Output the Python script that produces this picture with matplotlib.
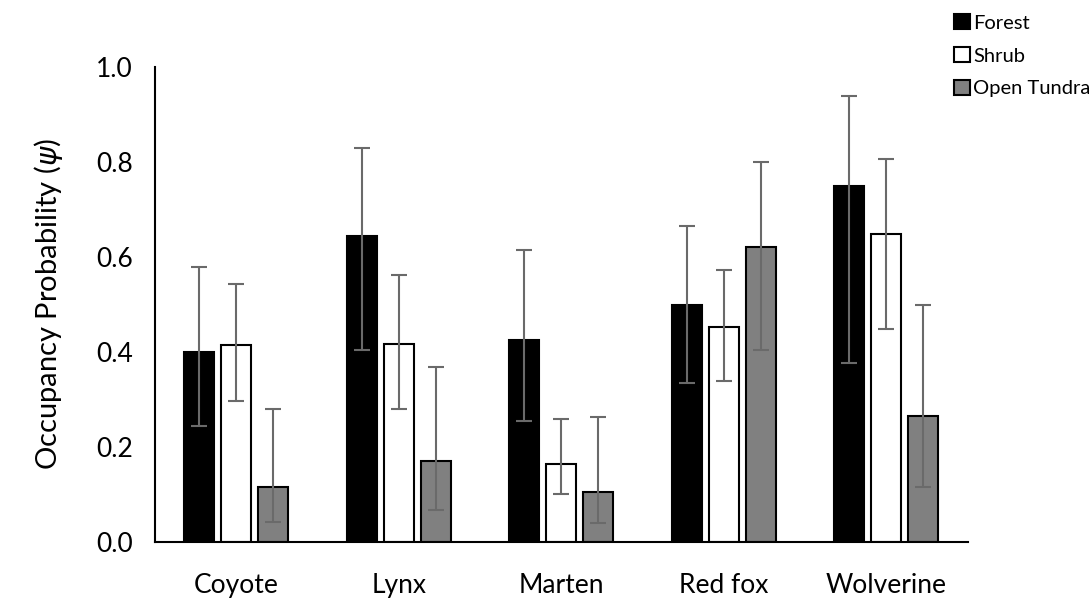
import matplotlib.pyplot as plt
import numpy as np

plt.rcParams['font.family'] = ['Lato', 'DejaVu Sans']
plt.rcParams['mathtext.fontset'] = 'dejavusans'

species = ["Coyote", "Lynx", "Marten", "Red fox", "Wolverine"]
habitats = ["Forest", "Shrub", "Open Tundra"]

forest = [0.40, 0.644, 0.425, 0.499, 0.75]
forest_hi = [0.579, 0.829, 0.615, 0.665, 0.939]
forest_lo = [0.244, 0.404, 0.255, 0.335, 0.377]

shrub = [0.415, 0.417, 0.164, 0.453, 0.648]
shrub_hi = [0.543, 0.562, 0.259, 0.573, 0.806]
shrub_lo = [0.297, 0.28, 0.101, 0.339, 0.448]

tundra = [0.116, 0.17, 0.105, 0.621, 0.265]
tundra_hi = [0.28, 0.368, 0.263, 0.80, 0.499]
tundra_lo = [0.042, 0.067, 0.04, 0.404, 0.116]

colors = ["black", "white", "#808080"]

fig = plt.figure(figsize=(10.92, 6.03), dpi=100)
ax = fig.add_axes([0.142, 0.101, 0.744, 0.788])

x = np.arange(len(species))
w = 0.185
pitch = 0.228
series = [(forest, forest_lo, forest_hi), (shrub, shrub_lo, shrub_hi), (tundra, tundra_lo, tundra_hi)]
for i, (vals, lo, hi) in enumerate(series):
    vals = np.array(vals)
    err = [vals - np.array(lo), np.array(hi) - vals]
    ax.bar(x + (i - 1) * pitch, vals, width=w, color=colors[i], edgecolor="black",
           linewidth=1.5, label=habitats[i], zorder=2)
    ax.errorbar(x + (i - 1) * pitch, vals, yerr=err, fmt="none", ecolor="#6a6a6a",
                elinewidth=1.5, capsize=6, capthick=1.5, zorder=3)

ax.set_xlim(-0.5, 4.5)
ax.set_ylim(0, 1.0)
ax.set_xticks(x)
ax.set_xticklabels(species, fontsize=19)
ax.set_yticks(np.arange(0, 1.01, 0.2))
ax.set_yticklabels(["{:.1f}".format(v) for v in np.arange(0, 1.01, 0.2)], fontsize=19)
ax.tick_params(axis="x", length=0, pad=22)
ax.tick_params(axis="y", length=0, pad=16)
ax.spines["top"].set_visible(False)
ax.spines["right"].set_visible(False)
ax.spines["left"].set_linewidth(1.5)
ax.spines["bottom"].set_linewidth(1.5)
ax.set_ylabel(r"Occupancy Probability ($\psi$)", fontsize=21, labelpad=22)

fig.legend(loc="upper left", bbox_to_anchor=(0.866, 0.99), frameon=False, fontsize=14.5,
           handlelength=0.8, handleheight=0.8, handletextpad=0.15, labelspacing=0.75,
           borderaxespad=0)

fig.savefig("out.png", dpi=100)
